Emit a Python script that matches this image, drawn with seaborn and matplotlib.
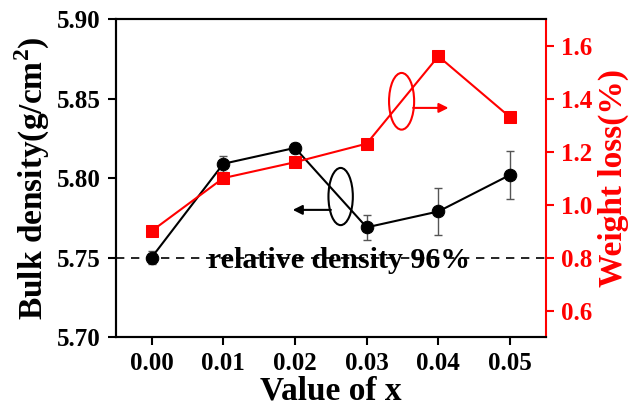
import numpy as np
import pandas as pd
import matplotlib
matplotlib.use('Agg')
import matplotlib.pyplot as plt
import seaborn as sns
from matplotlib.patches import Ellipse

x_vals = [0.00, 0.01, 0.02, 0.03, 0.04, 0.05]
bulk_density = [5.750, 5.809, 5.819, 5.769, 5.779, 5.802]
density_err = [0.004, 0.005, 0.003, 0.008, 0.0145, 0.015]
weight_loss = [0.90, 1.10, 1.16, 1.23, 1.56, 1.33]
x_ticks = ['0.00', '0.01', '0.02', '0.03', '0.04', '0.05']

df = pd.DataFrame({'x': x_vals, 'density': bulk_density,
                   'err': density_err, 'loss': weight_loss})

sns.set_style('ticks')
plt.rcParams['font.family'] = ['Liberation Serif', 'DejaVu Serif']
plt.rcParams['font.weight'] = 'bold'
plt.rcParams['text.color'] = 'black'
plt.rcParams['axes.labelcolor'] = 'black'
plt.rcParams['xtick.color'] = 'black'
plt.rcParams['ytick.color'] = 'black'
plt.rcParams['axes.edgecolor'] = 'black'
plt.rcParams['mathtext.fontset'] = 'custom'
plt.rcParams['mathtext.rm'] = 'Liberation Serif:bold'
plt.rcParams['mathtext.bf'] = 'Liberation Serif:bold'

fig, ax = plt.subplots(figsize=(6.43, 4.08), dpi=100)
fig.subplots_adjust(left=0.18, right=0.849, top=0.953, bottom=0.174)

ax.errorbar(df['x'], df['density'], yerr=df['err'], fmt='none',
            ecolor='#555555', elinewidth=1, capsize=3, capthick=1, zorder=2)
sns.lineplot(data=df, x='x', y='density', ax=ax, color='black', marker='o',
             markersize=9, markeredgecolor='black', linewidth=1.5, zorder=3)
ax.axhline(5.75, color='black', linestyle=(0, (5, 4)), linewidth=1.2, zorder=1)

ax.set_xlim(-0.005, 0.055)
ax.set_ylim(5.70, 5.90)
ax.set_xticks(x_vals)
ax.set_xticklabels(x_ticks)
ax.set_yticks([5.70, 5.75, 5.80, 5.85, 5.90])
ax.set_yticklabels(['5.70', '5.75', '5.80', '5.85', '5.90'])
ax.tick_params(axis='both', direction='out', length=6, width=1.5,
               labelsize=18, colors='black', pad=5)
ax.set_xlabel('Value of x', fontsize=24, fontweight='bold', labelpad=0)
ax.set_ylabel(r'Bulk density(g/cm$^\mathbf{2}$)', fontsize=24,
              fontweight='bold', labelpad=3)

ax2 = ax.twinx()
sns.lineplot(data=df, x='x', y='loss', ax=ax2, color='red', marker='s',
             markersize=8, markeredgecolor='red', linewidth=1.5, zorder=3)
ax2.set_ylim(0.5, 1.7)
ax2.set_yticks([0.6, 0.8, 1.0, 1.2, 1.4, 1.6])
ax2.set_yticklabels(['0.6', '0.8', '1.0', '1.2', '1.4', '1.6'])
ax2.tick_params(axis='y', direction='out', length=6, width=1.5,
                labelsize=18, colors='red', pad=5)
ax2.set_ylabel('Weight loss(%)', fontsize=24, fontweight='bold',
               color='red', labelpad=4)

for side in ['left', 'top', 'bottom']:
    ax.spines[side].set_linewidth(1.5)
    ax2.spines[side].set_linewidth(1.5)
ax2.spines['right'].set_color('red')
ax2.spines['right'].set_linewidth(1.5)
ax.spines['right'].set_visible(False)

ax.text(0.0262, 5.750, 'relative density 96%', fontsize=21.5, fontweight='bold',
        ha='center', va='center_baseline', zorder=4)

# black ellipse pointing left
ax.add_patch(Ellipse((0.02637, 5.7884), width=0.0034, height=0.036,
                     fill=False, edgecolor='black', linewidth=1.5))
ax.annotate('', xy=(0.0193, 5.780), xytext=(0.0254, 5.780),
            arrowprops=dict(arrowstyle='-|>', color='black', lw=1.5,
                            mutation_scale=14))

# red ellipse pointing right
ax2.add_patch(Ellipse((0.03487, 1.390), width=0.0035, height=0.214,
                      fill=False, edgecolor='red', linewidth=1.5))
ax2.annotate('', xy=(0.0418, 1.365), xytext=(0.0361, 1.365),
             arrowprops=dict(arrowstyle='-|>', color='red', lw=1.5,
                             mutation_scale=14))

fig.savefig('out.png', dpi=100)
